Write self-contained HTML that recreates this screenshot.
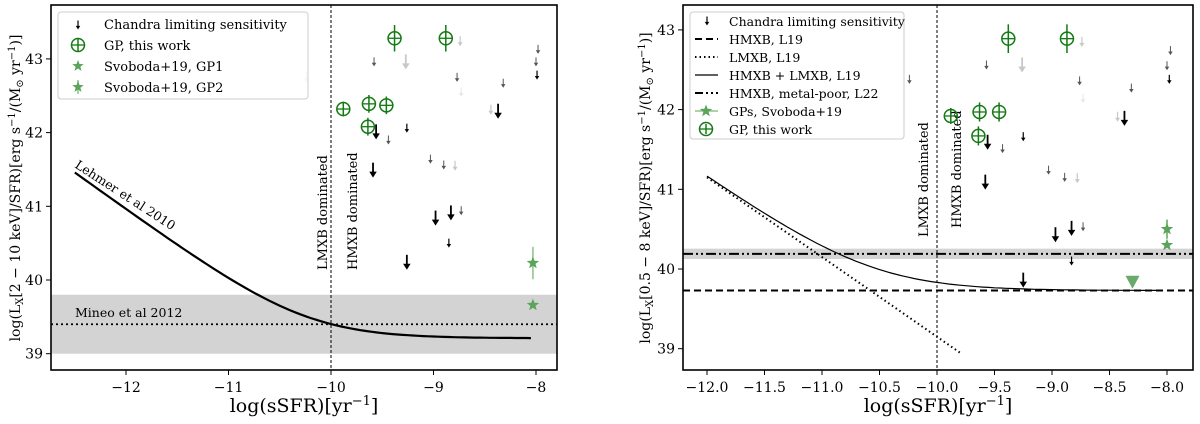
<!DOCTYPE html>
<html><head><meta charset="utf-8"><style>
body{margin:0;background:#fff;width:1200px;height:419px;overflow:hidden}
svg{font-family:"DejaVu Serif","Liberation Serif",serif}
</style></head><body>
<svg id="c" width="1200" height="419"></svg>
<script>
// ---- data ----
const leftGPx=[-9.88,-9.63,-9.46,-9.64,-9.38,-8.88];
const leftGPy=[42.32,42.39,42.37,42.08,43.28,43.28];
const leftGPerr=[0.1,0.12,0.12,0.12,0.18,0.18];
const leftStarX=[-8.03,-8.03];
const leftStarY=[40.23,39.66];
const leftStarErr=[0.22,0];
const leftArrX=[-9.56,-9.59,-8.98,-8.83,-9.26,-8.37,-9.26,-8.85,-9.44,-9.03,-8.90,-9.58,-8.77,-8.73,-7.98,-8.00,-7.99,-8.32,-9.27,-8.79,-8.74,-8.44,-10.24,-8.73];
const leftArrY=[42.01,41.49,40.84,40.91,40.24,42.29,42.06,40.50,41.90,41.64,41.56,42.96,42.75,40.94,43.13,42.96,42.78,42.67,42.96,41.55,43.24,42.31,42.75,42.55];
const leftArrKind=[0,0,0,0,0,0,1,1,2,2,2,2,2,2,2,2,1,2,3,4,4,4,4,5];
const rightGPx=[-9.88,-9.63,-9.46,-9.64,-9.38,-8.87];
const rightGPy=[41.92,41.97,41.97,41.67,42.89,42.89];
const rightGPerr=[0.1,0.12,0.12,0.12,0.18,0.18];
const rightStarX=[-8.0,-8.0];
const rightStarY=[40.50,40.30];
const rightStarErr=[0.12,0];
const rightTriX=[-8.30];
const rightTriY=[39.84];
const rightArrX=[-9.56,-9.58,-8.97,-8.83,-9.25,-8.37,-9.25,-8.83,-9.43,-9.03,-8.89,-9.57,-8.76,-8.73,-7.97,-8.0,-7.98,-8.31,-10.24,-9.26,-8.78,-8.74,-8.43,-8.73];
const rightArrY=[41.59,41.09,40.43,40.51,39.86,41.89,41.66,40.10,41.51,41.24,41.15,42.56,42.36,40.53,42.74,42.55,42.38,42.27,42.38,42.56,41.14,42.85,41.91,42.14];
const rightArrKind=[0,0,0,0,0,0,1,1,2,2,2,2,2,2,2,2,1,2,2,3,4,4,4,5];
const leftXTicks=[-12,-11,-10,-9,-8];
const leftYTicks=[39,40,41,42,43];
const rightXTicks=[-12.0,-11.5,-11.0,-10.5,-10.0,-9.5,-9.0,-8.5,-8.0];
const rightYTicks=[39,40,41,42,43];
const lehmerA=28.9566, lehmerB=39.2095;
const l19H=39.73, l19LA=29.15, l22=40.19;
const mineo=39.4;

const NS="http://www.w3.org/2000/svg";
const svg=document.getElementById('c');
function el(t,a,p){const e=document.createElementNS(NS,t);for(const k in a)e.setAttribute(k,a[k]);(p||svg).appendChild(e);return e;}
const LX=v=>331+(v+10)*102.5, LY=v=>280-(v-40)*73.7;
const RX=v=>937+(v+10)*115, RY=v=>269-(v-40)*79.7;
const kinds=[{c:'#000',s:15,w:1.8},{c:'#000',s:9,w:1.2},{c:'#555',s:9,w:1},{c:'#c8c8c8',s:15,w:1.8},{c:'#c8c8c8',s:10,w:1.2},{c:'#e6e6e6',s:9,w:1}];

function arrow(g,x,y,k){const K=kinds[k];const a=el('g',{},g);

const h=K.s*0.25, hl=K.s*0.4, y2=y+K.s/2;
el('line',{x1:x,y1:y-K.s/2,x2:x,y2:y2-hl+1,stroke:K.c,'stroke-width':K.w},a);
el('path',{d:`M${x-h} ${y2-hl} L${x} ${y2} L${x+h} ${y2-hl}Z`,fill:K.c},a);}
function gp(g,x,y,eTop,eBot){const a=el('g',{},g);

el('line',{x1:x,y1:eTop,x2:x,y2:eBot,stroke:'#127a12','stroke-width':1.5},a);
el('circle',{cx:x,cy:y,r:6.5,fill:'none',stroke:'#127a12','stroke-width':1.5},a);
el('line',{x1:x-6.5,y1:y,x2:x+6.5,y2:y,stroke:'#127a12','stroke-width':1.3},a);}
function star(g,x,y,r,col){let d='';for(let i=0;i<10;i++){const rr=i%2?r*0.42:r;const an=-Math.PI/2+i*Math.PI/5;d+=(i?'L':'M')+(x+rr*Math.cos(an)).toFixed(1)+' '+(y+rr*Math.sin(an)).toFixed(1);}
const s=el('path',{d:d+'Z',fill:col||'#5aa55a'},g);}
function txt(g,x,y,s,o){const t=el('text',Object.assign({x:x,y:y,'font-size':13,fill:'#000'},o||{}),g);t.textContent=s;return t;}

// ===== LEFT =====
const L=el('g',{});
const band=el('rect',{x:51,y:LY(39.8),width:506,height:LY(39.0)-LY(39.8),fill:'#d3d3d3'},L);

const ml=el('line',{x1:51,x2:557,y1:LY(mineo),y2:LY(mineo),stroke:'#000','stroke-width':1.8,'stroke-dasharray':'2,3'},L);

txt(L,75,LY(mineo)-7,'Mineo et al 2012',{'font-size':12.5});
const vd=el('line',{x1:LX(-10),x2:LX(-10),y1:5,y2:370,stroke:'#000','stroke-width':1,'stroke-dasharray':'3,2'},L);

txt(L,0,0,'LMXB dominated',{transform:`translate(${LX(-10)-4},270) rotate(-90)`,'font-size':13});
txt(L,0,0,'HMXB dominated',{transform:`translate(${LX(-10)+26},270) rotate(-90)`,'font-size':13});
let d='';for(let v=-12.5;v<=-8.001;v+=0.05){const y=Math.log10(Math.pow(10,lehmerA-v)+Math.pow(10,lehmerB));d+=(d?'L':'M')+LX(v).toFixed(1)+' '+LY(y).toFixed(1);}
const lc=el('path',{d:d,fill:'none',stroke:'#000','stroke-width':2.2},L);
txt(L,0,0,'Lehmer et al 2010',{transform:'translate(74,167) rotate(33)','font-size':12.5});
leftArrX.forEach((x,i)=>arrow(L,LX(x),LY(leftArrY[i]),leftArrKind[i]));
leftGPx.forEach((x,i)=>gp(L,LX(x),LY(leftGPy[i]),LY(leftGPy[i]+leftGPerr[i]),LY(leftGPy[i]-leftGPerr[i])));
leftStarX.forEach((x,i)=>{if(leftStarErr[i])el('line',{x1:LX(x),x2:LX(x),y1:LY(leftStarY[i]+leftStarErr[i]),y2:LY(leftStarY[i]-leftStarErr[i]),stroke:'#8cc08c','stroke-width':1.5},L);star(L,LX(x),LY(leftStarY[i]),6.5);});
const lf=el('rect',{x:51,y:5,width:506,height:365,fill:'none',stroke:'#000','stroke-width':1.6},L);
leftXTicks.forEach(v=>{el('line',{x1:LX(v),x2:LX(v),y1:370,y2:375,stroke:'#000'},L);txt(L,LX(v),392,'\u2212'+Math.abs(v),{'text-anchor':'middle','font-size':14});});
leftYTicks.forEach(v=>{el('line',{x1:46,x2:51,y1:LY(v),y2:LY(v),stroke:'#000'},L);txt(L,43,LY(v)+5,String(v),{'text-anchor':'end','font-size':14});});
txt(L,304,412,'',{'text-anchor':'middle','font-size':19}).innerHTML='log(sSFR)[yr<tspan font-size="13" dy="-7">−1</tspan><tspan dy="7">]</tspan>';
txt(L,0,0,'',{transform:'translate(20,188) rotate(-90)','text-anchor':'middle','font-size':14}).innerHTML='log(L<tspan font-size="10" dy="3">X</tspan><tspan dy="-3">[2 − 10 keV]/SFR)[erg s</tspan><tspan font-size="10" dy="-5">−1</tspan><tspan dy="5">/(M</tspan><tspan font-size="10" dy="3">⊙</tspan><tspan dy="-3"> yr</tspan><tspan font-size="10" dy="-5">−1</tspan><tspan dy="5">)]</tspan>';
const lg=el('g',{},L);
el('rect',{x:58,y:12,width:250,height:87,rx:3,fill:'#fff','fill-opacity':0.85,stroke:'#ccc'},lg);
arrow(lg,78,25,1);txt(lg,104,29,'Chandra limiting sensitivity');
gp(lg,78,45,39,51);txt(lg,104,50,'GP, this work');
star(lg,78,66,6);txt(lg,104,71,'Svoboda+19, GP1');
el('line',{x1:78,x2:78,y1:80,y2:94,stroke:'#8cc08c','stroke-width':1.5},lg);star(lg,78,87,6);txt(lg,104,92,'Svoboda+19, GP2');

// ===== RIGHT =====
const R=el('g',{});
const rb=el('rect',{x:683,y:RY(l22+0.065),width:510,height:RY(l22-0.065)-RY(l22+0.065),fill:'#d3d3d3'},R);
const rl22=el('line',{x1:683,x2:1193,y1:RY(l22),y2:RY(l22),stroke:'#000','stroke-width':2,'stroke-dasharray':'10,3,2,3,2,3'},R);
const rh=el('line',{x1:683,x2:1193,y1:RY(l19H),y2:RY(l19H),stroke:'#000','stroke-width':2,'stroke-dasharray':'7,4'},R);
const rll=el('line',{x1:RX(-12),y1:RY(l19LA+12),x2:RX(-9.8),y2:RY(l19LA+9.8),stroke:'#000','stroke-width':2,'stroke-dasharray':'1.5,3'},R);
d='';for(let v=-12;v<=-8.001;v+=0.05){const y=Math.log10(Math.pow(10,l19LA-v)+Math.pow(10,l19H));d+=(d?'L':'M')+RX(v).toFixed(1)+' '+RY(y).toFixed(1);}
const rs=el('path',{d:d,fill:'none',stroke:'#000','stroke-width':1.2},R);
const rv=el('line',{x1:RX(-10),x2:RX(-10),y1:5,y2:370,stroke:'#000','stroke-width':1,'stroke-dasharray':'3,2'},R);
txt(R,0,0,'LMXB dominated',{transform:`translate(${RX(-10)-9},237) rotate(-90)`,'font-size':13});
txt(R,0,0,'HMXB dominated',{transform:`translate(${RX(-10)+24},228) rotate(-90)`,'font-size':13});
rightArrX.forEach((x,i)=>arrow(R,RX(x),RY(rightArrY[i]),rightArrKind[i]));
rightGPx.forEach((x,i)=>gp(R,RX(x),RY(rightGPy[i]),RY(rightGPy[i]+rightGPerr[i]),RY(rightGPy[i]-rightGPerr[i])));
rightStarX.forEach((x,i)=>{if(rightStarErr[i])el('line',{x1:RX(x),x2:RX(x),y1:RY(rightStarY[i]+rightStarErr[i]),y2:RY(rightStarY[i]-rightStarErr[i]),stroke:'#5aa55a','stroke-width':1.5},R);star(R,RX(x),RY(rightStarY[i]),6.5);});
rightTriX.forEach((x,i)=>{const X=RX(x),Y=RY(rightTriY[i]);const t=el('path',{d:`M${X-7} ${Y-6}L${X+7} ${Y-6}L${X} ${Y+7}Z`,fill:'#6aaa6a'},R);});
const rf=el('rect',{x:683,y:5,width:510,height:365,fill:'none',stroke:'#000','stroke-width':1.6},R);
rightXTicks.forEach(v=>{el('line',{x1:RX(v),x2:RX(v),y1:370,y2:375,stroke:'#000'},R);txt(R,RX(v),392,'\u2212'+Math.abs(v).toFixed(1),{'text-anchor':'middle','font-size':14});});
rightYTicks.forEach(v=>{el('line',{x1:678,x2:683,y1:RY(v),y2:RY(v),stroke:'#000'},R);txt(R,675,RY(v)+5,String(v),{'text-anchor':'end','font-size':14});});
txt(R,938,412,'',{'text-anchor':'middle','font-size':19}).innerHTML='log(sSFR)[yr<tspan font-size="13" dy="-7">−1</tspan><tspan dy="7">]</tspan>';
txt(R,0,0,'',{transform:'translate(650,188) rotate(-90)','text-anchor':'middle','font-size':14}).innerHTML='log(L<tspan font-size="10" dy="3">X</tspan><tspan dy="-3">[0.5 − 8 keV]/SFR)[erg s</tspan><tspan font-size="10" dy="-5">−1</tspan><tspan dy="5">/(M</tspan><tspan font-size="10" dy="3">⊙</tspan><tspan dy="-3"> yr</tspan><tspan font-size="10" dy="-5">−1</tspan><tspan dy="5">)]</tspan>';
const rg=el('g',{},R);
el('rect',{x:690,y:12,width:214,height:127,rx:3,fill:'#fff','fill-opacity':0.85,stroke:'#ccc'},rg);
const fs={'font-size':12.5};
arrow(rg,707,21,1);txt(rg,729,26,'Chandra limiting sensitivity',fs);
el('line',{x1:695,x2:718,y1:39,y2:39,stroke:'#000','stroke-width':2,'stroke-dasharray':'7,4'},rg);txt(rg,729,44,'HMXB, L19',fs);
el('line',{x1:695,x2:718,y1:57,y2:57,stroke:'#000','stroke-width':2,'stroke-dasharray':'1.5,3'},rg);txt(rg,729,62,'LMXB, L19',fs);
el('line',{x1:695,x2:718,y1:75,y2:75,stroke:'#000','stroke-width':1.2},rg);txt(rg,729,80,'HMXB + LMXB, L19',fs);
el('line',{x1:695,x2:718,y1:93,y2:93,stroke:'#000','stroke-width':2,'stroke-dasharray':'8,3,2,3,2,3'},rg);txt(rg,729,98,'HMXB, metal-poor, L22',fs);
el('line',{x1:695,x2:718,y1:111,y2:111,stroke:'#5aa55a','stroke-width':1},rg);star(rg,706,111,6.5);txt(rg,729,116,'GPs, Svoboda+19',fs);
gp(rg,706,129,124,134);txt(rg,729,134,'GP, this work',fs);
</script>
</body></html>
